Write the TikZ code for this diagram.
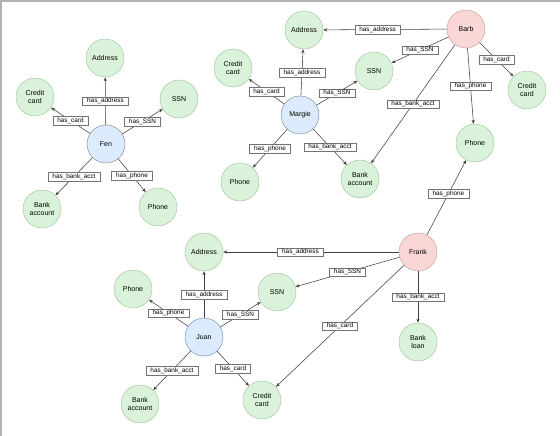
\documentclass[tikz,border=0pt]{standalone}
\usepackage{fontspec}
\setmainfont{Liberation Sans}
\usetikzlibrary{arrows.meta}
\definecolor{pblue}{HTML}{DCEBFB}
\definecolor{pblueln}{HTML}{7F93AD}
\definecolor{ppink}{HTML}{FAD7D7}
\definecolor{ppinkln}{HTML}{C9A3A3}
\definecolor{agreen}{HTML}{D9F2D9}
\definecolor{agreenln}{HTML}{A6C9A6}

\begin{document}
\begin{tikzpicture}[x=1pt,y=-1pt,font=\fontsize{7}{8}\selectfont,
  ent/.style={circle,minimum size=38pt,inner sep=0pt,align=center,line width=0.5pt},
  person/.style={ent,fill=pblue,draw=pblueln},
  flagged/.style={ent,fill=ppink,draw=ppinkln},
  attr/.style={ent,fill=agreen,draw=agreenln},
  arr/.style={-{Stealth[length=4pt,width=3.2pt]},draw=black!75,line width=0.55pt},
  lbl/.style={draw=black!55,fill=white,line width=0.4pt,inner xsep=4.5pt,inner ysep=1.3pt,
    font=\fontsize{6.4}{7}\selectfont,midway}]

\useasboundingbox (0,0) rectangle (560,436);
\draw[black!30,line width=2pt] (0,1)--(560,1);
\draw[black!30,line width=2pt] (1,0)--(1,436);

% ---- Fen
\node[person] (fen) at (106,144) {Fen};
\node[attr] (fenAdr)   at (105,58)  {Address};
\node[attr] (fenCard)  at (35,97)   {Credit\\card};
\node[attr] (fenSSN)   at (179,99)  {SSN};
\node[attr] (fenBank)  at (42,209)  {Bank\\account};
\node[attr] (fenPhone) at (158,207) {Phone};
\draw[arr] (fen)--node[lbl]{has\_address} (fenAdr);
\draw[arr] (fen)--node[lbl]{has\_card} (fenCard);
\draw[arr] (fen)--node[lbl]{has\_SSN} (fenSSN);
\draw[arr] (fen)--node[lbl]{has\_bank\_acct} (fenBank);
\draw[arr] (fen)--node[lbl]{has\_phone} (fenPhone);

% ---- Margie
\node[person] (margie) at (300,115) {Margie};
\node[attr] (marAdr)   at (304,30)  {Address};
\node[attr] (marCard)  at (233,68)  {Credit\\card};
\node[attr] (marSSN)   at (374,71)  {SSN};
\node[attr] (marPhone) at (240,182) {Phone};
\node[attr] (marBank)  at (360,179) {Bank\\account};
\draw[arr] (margie)--node[lbl]{has\_address} (marAdr);
\draw[arr] (margie)--node[lbl]{has\_card} (marCard);
\draw[arr] (margie)--node[lbl]{has\_SSN} (marSSN);
\draw[arr] (margie)--node[lbl]{has\_phone} (marPhone);
\draw[arr] (margie)--node[lbl]{has\_bank\_acct} (marBank);

% ---- Barb
\node[flagged] (barb) at (466,29) {Barb};
\node[attr] (barbCard)  at (527,90)  {Credit\\card};
\node[attr] (barbPhone) at (475,143) {Phone};
\draw[arr] (barb)--node[lbl,pos=0.56]{has\_address} (marAdr);
\draw[arr] (barb)--node[lbl]{has\_SSN} (marSSN);
\draw[arr] (barb)--node[lbl]{has\_bank\_acct} (marBank);
\draw[arr] (barb)--node[lbl]{has\_card} (barbCard);
\draw[arr] (barb)--node[lbl]{has\_phone} (barbPhone);

% ---- Juan
\node[person] (juan) at (204,337) {Juan};
\node[attr] (juanAdr)   at (204,252) {Address};
\node[attr] (juanPhone) at (133,289) {Phone};
\node[attr] (juanSSN)   at (277,292) {SSN};
\node[attr] (juanBank)  at (140,404) {Bank\\account};
\node[attr] (juanCard)  at (262,400) {Credit\\card};
\draw[arr] (juan)--node[lbl]{has\_address} (juanAdr);
\draw[arr] (juan)--node[lbl]{has\_phone} (juanPhone);
\draw[arr] (juan)--node[lbl]{has\_SSN} (juanSSN);
\draw[arr] (juan)--node[lbl]{has\_bank\_acct} (juanBank);
\draw[arr] (juan)--node[lbl]{has\_card} (juanCard);

% ---- Frank
\node[flagged] (frank) at (418,252) {Frank};
\node[attr] (frankLoan) at (418,342) {Bank\\loan};
\draw[arr] (frank)--node[lbl,pos=0.56]{has\_address} (juanAdr);
\draw[arr] (frank)--node[lbl]{has\_SSN} (juanSSN);
\draw[arr] (frank)--node[lbl]{has\_card} (juanCard);
\draw[arr] (frank)--node[lbl]{has\_bank\_acct} (frankLoan);
\draw[arr] (frank)--node[lbl,pos=0.55]{has\_phone} (barbPhone);
\end{tikzpicture}
\end{document}
